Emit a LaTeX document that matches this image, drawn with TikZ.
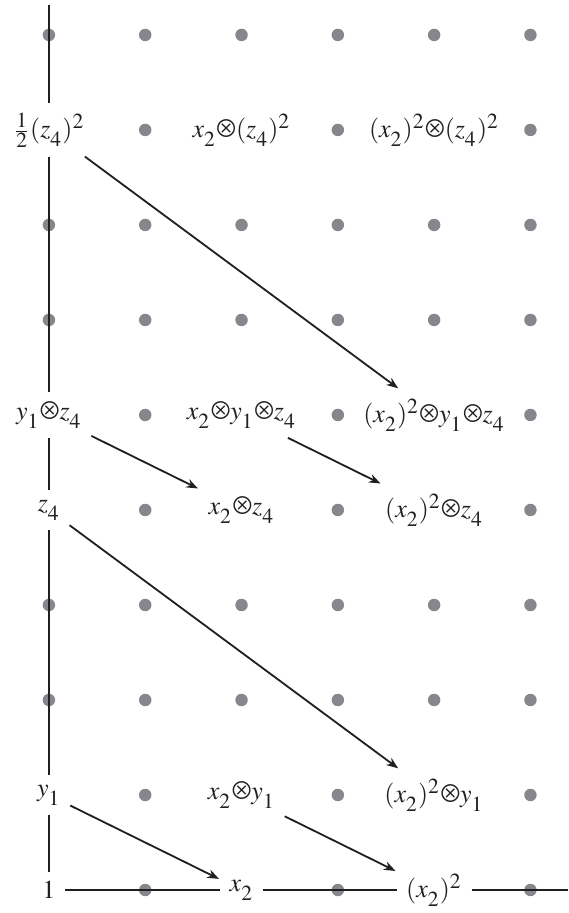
\documentclass[tikz,border=0pt]{standalone}
\usepackage{mathptmx}
\usepackage{pifont}
\usepackage{tikz}
\usetikzlibrary{arrows.meta}

\DeclareMathSizes{10}{10}{8.3}{6.5}
\definecolor{DotGrey}{RGB}{134,134,140}
\definecolor{InkBlack}{RGB}{35,31,32}
\newcommand{\ot}{\mbox{\Pisymbol{psy}{196}}}

\begin{document}
\sbox0{$x_2$}\fontdimen16\textfont2=3.4pt \fontdimen17\textfont2=3.4pt
\begin{tikzpicture}[x=37.1pt, y=36.6pt, >={Stealth[length=4.5pt, width=3.4pt]},
  line width=0.7pt, InkBlack,
  pt/.style={fill=DotGrey, draw=none},
  d3/.style={->, shorten >=0.5pt}]
  \useasboundingbox (-0.508,-0.242) rectangle (5.394,9.368);
  % grey dots for the empty entries
  \foreach \c in {1,3,5}
    \foreach \r in {0,...,9}
      \fill[pt] (\c,\r) circle (2.4pt);
  \foreach \c in {0,2,4}
    \foreach \r in {2,3,6,7,9}
      \fill[pt] (\c,\r) circle (2.4pt);
  % nonzero entries
  \node (one)   at (0,0) {$1$};
  \node (xa)    at (2,0) {$x_2$};
  \node (xsq)   at (4,0) {$(x_2)^2$};
  \node (ya)    at (0,1) {$y_1$};
  \node (xya)   at (2,1) {$x_2\ot y_1$};
  \node (xsqya) at (4,1) {$(x_2)^2\ot y_1$};
  \node (z)     at (0,4) {$z_4$};
  \node (xz)    at (2,4) {$x_2\ot z_4$};
  \node (xsqz)  at (4,4) {$(x_2)^2\ot z_4$};
  \node (yz)    at (0,5) {$y_1\ot z_4$};
  \node (xyz)   at (2,5) {$x_2\ot y_1\ot z_4$};
  \node (xsqyz) at (4,5) {$(x_2)^2\ot y_1\ot z_4$};
  \node (zsq)   at (0,8) {$\frac{1}{2}(z_4)^2$};
  \node (xzsq)  at (2,8) {$x_2\ot(z_4)^2$};
  \node (xsqzsq) at (4,8) {$(x_2)^2\ot(z_4)^2$};
  % axes
  \coordinate (top) at (0,9.32);
  \coordinate (right) at (5.394,0);
  \draw (top) -- (zsq) -- (yz) -- (z) -- (ya) -- (one);
  \draw (one) -- (xa) -- (xsq) -- (right);
  % differentials
  \draw[d3] (ya) -- (xa);
  \draw[d3] (xya) -- (xsq);
  \draw[d3] (z) -- (xsqya);
  \draw[d3] (yz) -- (xz);
  \draw[d3] (xyz) -- (xsqz);
  \draw[d3] (zsq) -- (xsqyz);
\end{tikzpicture}
\end{document}
